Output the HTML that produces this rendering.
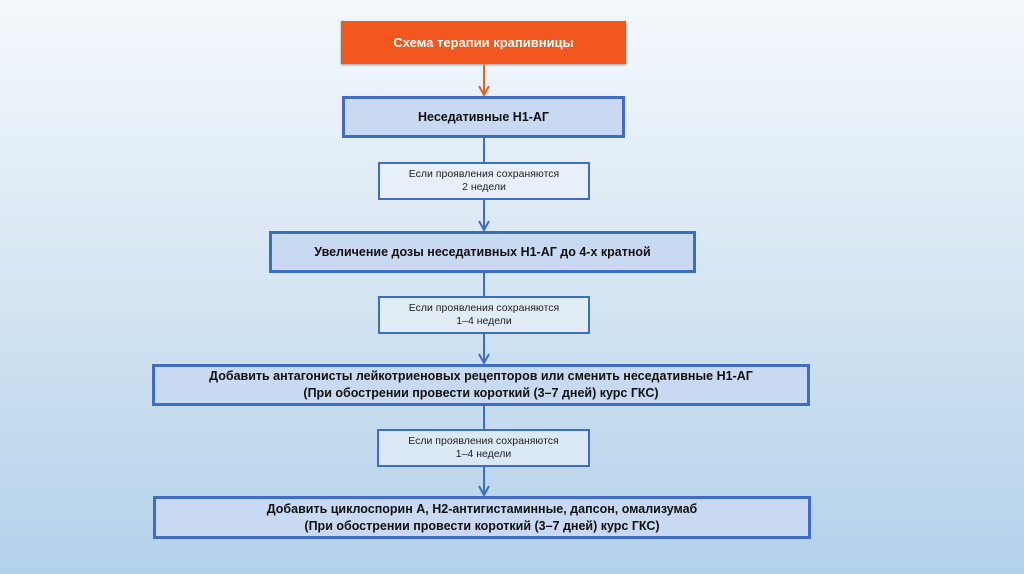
<!DOCTYPE html>
<html><head><meta charset="utf-8"><style>
body{margin:0;width:1024px;height:574px;overflow:hidden;font-family:"Liberation Sans",sans-serif;
background:linear-gradient(#f4f8fc 0%,#dce9f5 40%,#b3d1ea 100%);position:relative}
.b{position:absolute;box-sizing:border-box;display:flex;align-items:center;justify-content:center;text-align:center;color:#111}
.m{border:3px solid #3d6ec4;background:#c9d9f1;font-weight:bold;font-size:12.5px;line-height:17px}
.s{border:2.5px solid #3d6ec4;background:rgba(235,242,250,0.6);font-size:10.5px;line-height:13px;color:#222}
.o{background:#f1571f;color:#fff;font-weight:bold;font-size:13px;box-shadow:0 1px 2px #999}
svg{position:absolute;left:0;top:0}
</style></head><body>
<svg width="1024" height="574">
<g fill="none" stroke-width="2">
<line x1="484" y1="64" x2="484" y2="95" stroke="#e0622a"/>
<path d="M479,86 L484,95 L489,86" stroke="#e0622a"/>
<g stroke="#3d6ec4">
<line x1="484" y1="137" x2="484" y2="162"/>
<line x1="484" y1="200" x2="484" y2="230"/>
<path d="M479,221 L484,230 L489,221"/>
<line x1="484" y1="272" x2="484" y2="296"/>
<line x1="484" y1="334" x2="484" y2="363"/>
<path d="M479,354 L484,363 L489,354"/>
<line x1="484" y1="405" x2="484" y2="429"/>
<line x1="484" y1="467" x2="484" y2="495"/>
<path d="M479,486 L484,495 L489,486"/>
</g></g>
</svg>
<div class="b o" style="left:341px;top:21px;width:285px;height:43px">Схема терапии крапивницы</div>
<div class="b m" style="left:342px;top:96px;width:283px;height:42px">Неседативные Н1-АГ</div>
<div class="b s" style="left:378px;top:162px;width:212px;height:38px">Если проявления сохраняются<br>2 недели</div>
<div class="b m" style="left:269px;top:231px;width:427px;height:42px">Увеличение дозы неседативных Н1-АГ до 4-х кратной</div>
<div class="b s" style="left:378px;top:296px;width:212px;height:38px">Если проявления сохраняются<br>1–4 недели</div>
<div class="b m" style="left:152px;top:364px;width:658px;height:42px">Добавить антагонисты лейкотриеновых рецепторов или сменить неседативные Н1-АГ<br>(При обострении провести короткий (3–7 дней) курс ГКС)</div>
<div class="b s" style="left:377px;top:429px;width:213px;height:38px">Если проявления сохраняются<br>1–4 недели</div>
<div class="b m" style="left:153px;top:496px;width:658px;height:43px">Добавить циклоспорин А, Н2-антигистаминные, дапсон, омализумаб<br>(При обострении провести короткий (3–7 дней) курс ГКС)</div>
</body></html>
